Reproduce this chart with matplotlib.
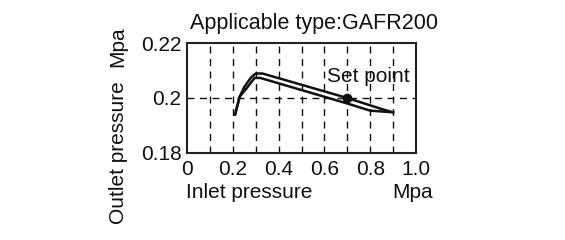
import matplotlib
matplotlib.use("Agg")
import matplotlib.pyplot as plt

plt.rcParams['font.family'] = ['Liberation Sans', 'DejaVu Sans']

# Data
upper_x = [0.21, 0.23, 0.25, 0.28, 0.30, 0.33, 0.70, 0.85, 0.90]
upper_y = [0.194, 0.2005, 0.204, 0.2075, 0.2089, 0.2089, 0.200, 0.1960, 0.1948]
lower_x = [0.21, 0.23, 0.26, 0.295, 0.32, 0.70, 0.80, 0.90]
lower_y = [0.194, 0.2005, 0.2035, 0.2073, 0.2073, 0.1980, 0.1954, 0.1948]
set_x = [0.70]
set_y = [0.200]
x_ticks = [0, 0.2, 0.4, 0.6, 0.8, 1.0]
x_labels = ['0', '0.2', '0.4', '0.6', '0.8', '1.0']
y_ticks = [0.18, 0.2, 0.22]
y_labels = ['0.18', '0.2', '0.22']
grid_x = [0.1, 0.2, 0.3, 0.4, 0.5, 0.6, 0.7, 0.8, 0.9]
grid_y = [0.2]

W, H = 565, 240
fig = plt.figure(figsize=(W / 100, H / 100), dpi=100)
ax = fig.add_axes([187 / W, 1 - 153 / H, (416 - 187) / W, (153 - 43) / H])

ax.set_xlim(0, 1.0)
ax.set_ylim(0.18, 0.22)

for gx in grid_x:
    ax.axvline(gx, color='#111111', lw=1.0, ls=(0, (5, 4)))
for gy in grid_y:
    ax.axhline(gy, color='#111111', lw=1.0, ls=(0, (5, 4)))

ax.plot(upper_x, upper_y, color='#111111', lw=1.8, solid_joinstyle='round')
ax.plot(lower_x, lower_y, color='#111111', lw=1.8, solid_joinstyle='round')
ax.plot(set_x, set_y, 'o', color='#111111', ms=6)
ax.text(0.612, 0.2077, 'Set point', fontsize=15, va='center', ha='left', color='#111111')

for s in ax.spines.values():
    s.set_linewidth(1.5)
    s.set_color('#222222')

ax.set_xticks(x_ticks)
ax.set_xticklabels(x_labels)
ax.set_yticks(y_ticks)
ax.set_yticklabels(y_labels)
ax.tick_params(length=0, labelsize=15, colors='#111111', pad=4)
ax.tick_params(axis='x', pad=5)

fig.text(314 / W, 1 - 23 / H, 'Applicable type:GAFR200', fontsize=15.5,
         ha='center', va='center', color='#111111')
fig.text(249 / W, 1 - 192 / H, 'Inlet pressure', fontsize=15,
         ha='center', va='center', color='#111111')
fig.text(413 / W, 1 - 192 / H, 'Mpa', fontsize=15,
         ha='center', va='center', color='#111111')
fig.text(118 / W, 1 - 152.5 / H, 'Outlet pressure', fontsize=15, rotation=90,
         ha='center', va='center', color='#111111')
fig.text(118 / W, 1 - 46.5 / H, 'Mpa', fontsize=15, rotation=90,
         ha='center', va='center', color='#111111')

fig.savefig('out.png', dpi=100, facecolor='white')
